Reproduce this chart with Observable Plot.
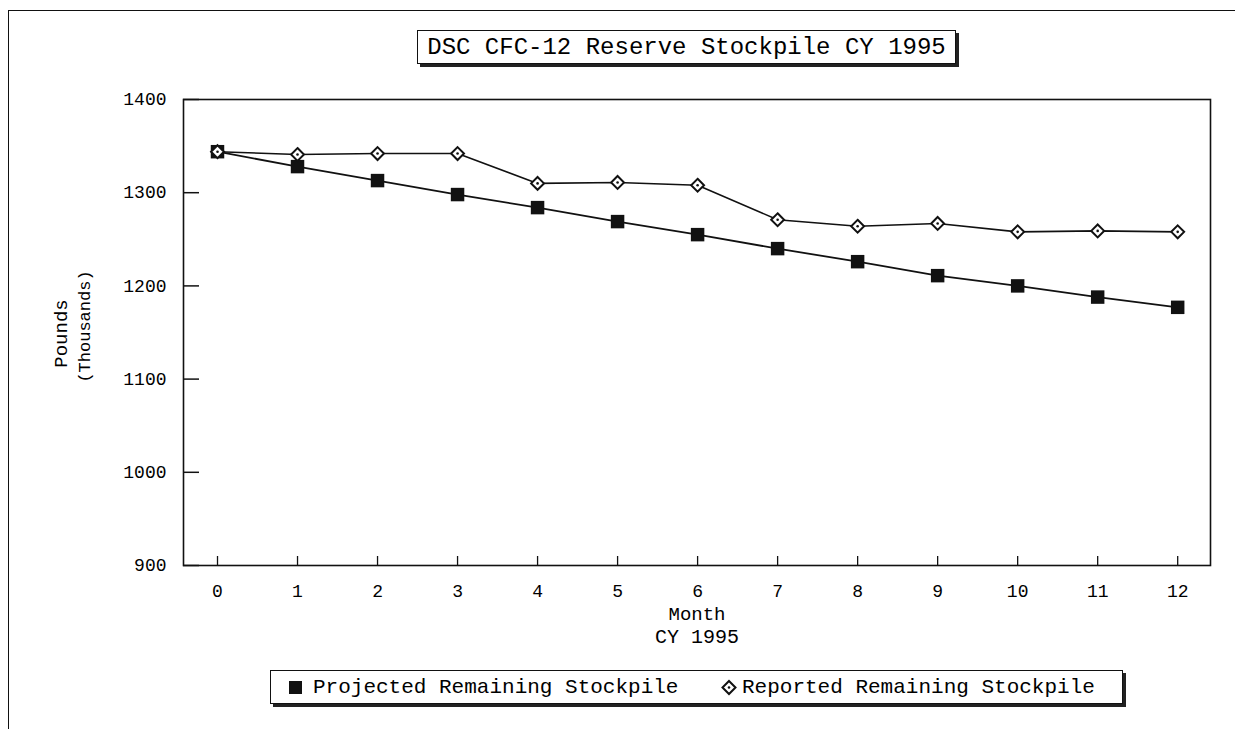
<!DOCTYPE html>
<html>
<head>
<meta charset="utf-8">
<script src="https://cdn.jsdelivr.net/npm/d3@7"></script>
<script src="https://cdn.jsdelivr.net/npm/@observablehq/plot@0.6"></script>
<style>
  body { margin: 0; background: #fff; }
  #wrap { position: relative; width: 1250px; height: 729px; overflow: hidden; font-family: "Liberation Mono", monospace; color: #000; }
  #border { position: absolute; left: 8px; top: 10px; width: 1226px; height: 740px; border-left: 1.5px solid #111; border-top: 1.5px solid #111; }
  #chart { position: absolute; left: 0; top: 0; }
  #title { position: absolute; left: 417px; top: 30px; width: 537px; height: 32px; border: 1.5px solid #111; box-shadow: 3px 3px 0 #222; background: #fff;
           display: flex; align-items: center; justify-content: center; font-size: 24px; white-space: nowrap; }
  #legend { position: absolute; left: 270px; top: 670px; width: 851px; height: 32px; border: 1.5px solid #111; box-shadow: 3px 3px 0 #222; background: #fff; font-size: 21px; white-space: nowrap; }
  #legend .item { position: absolute; top: 0; height: 32px; display: flex; align-items: center; }
  #legend svg { position: absolute; top: 0; }
</style>
</head>
<body>
<div id="wrap">
  <div id="border"></div>
  <div id="chart"></div>
  <div id="title"></div>
  <div id="legend"></div>
</div>
<script>
const titleText = "DSC CFC-12 Reserve Stockpile CY 1995";
const months = [0, 1, 2, 3, 4, 5, 6, 7, 8, 9, 10, 11, 12];
const projected = [1344, 1328, 1313, 1298, 1284, 1269, 1255, 1240, 1226, 1211, 1200, 1188, 1177];
const reported  = [1344, 1341, 1342, 1342, 1310, 1311, 1308, 1271, 1264, 1267, 1258, 1259, 1258];
const yTicks = [900, 1000, 1100, 1200, 1300, 1400];
const seriesNames = ["Projected Remaining Stockpile", "Reported Remaining Stockpile"];
const xLabel1 = "Month", xLabel2 = "CY 1995";
const yLabel1 = "Pounds", yLabel2 = "(Thousands)";

const projData = months.map((m, i) => ({month: m, value: projected[i]}));
const repData = months.map((m, i) => ({month: m, value: reported[i]}));

const W = 1250, H = 729, mT = 99, mB = 164, mL = 183, mR = 40;
const frameW = W - mL - mR, frameH = H - mT - mB;

const chart = Plot.plot({
  width: W,
  height: H,
  marginTop: mT,
  marginBottom: mB,
  marginLeft: mL,
  marginRight: mR,
  style: {fontFamily: "'Liberation Mono', monospace", fontSize: "18px", color: "#000", background: "transparent"},
  x: {domain: [-0.425, 12.41]},
  y: {domain: [900, 1400]},
  marks: [
    Plot.frame({stroke: "#111", strokeWidth: 1.6}),
    Plot.tickY(yTicks, {y: d => d, insetRight: frameW - 16, stroke: "#111", strokeWidth: 1.5}),
    Plot.tickX(months, {x: d => d, insetTop: frameH - 9, stroke: "#111", strokeWidth: 1.3}),
    Plot.axisY({ticks: yTicks, tickSize: 0, tickPadding: 17, label: null, fontSize: 18, tickFormat: d => String(d)}),
    Plot.axisX({ticks: months, tickSize: 0, tickPadding: 19, label: null, fontSize: 18, tickFormat: d => String(d)}),
    Plot.text([xLabel1], {frameAnchor: "bottom", lineAnchor: "middle", dy: 48, fontSize: 19}),
    Plot.text([xLabel2], {frameAnchor: "bottom", lineAnchor: "middle", dy: 71, fontSize: 20}),
    Plot.text([yLabel1], {frameAnchor: "left", textAnchor: "middle", lineAnchor: "middle", dx: -123, dy: 1, rotate: -90, fontSize: 19}),
    Plot.text([yLabel2], {frameAnchor: "left", textAnchor: "middle", lineAnchor: "middle", dx: -99, dy: -6, rotate: -90, fontSize: 17}),
    Plot.line(repData, {x: "month", y: "value", stroke: "#111", strokeWidth: 1.6}),
    Plot.line(projData, {x: "month", y: "value", stroke: "#111", strokeWidth: 1.8}),
    Plot.dot(projData, {x: "month", y: "value", symbol: "square", r: 7.6, fill: "#111", stroke: "none"}),
    Plot.dot(repData, {x: "month", y: "value", symbol: "diamond2", r: 5.8, fill: "#fff", stroke: "#111", strokeWidth: 2}),
    Plot.dot(repData, {x: "month", y: "value", r: 1.3, fill: "#111", stroke: "none"})
  ]
});
document.getElementById("chart").appendChild(chart);
document.getElementById("title").textContent = titleText;

const legend = document.getElementById("legend");
legend.innerHTML =
  `<svg width="851" height="32" style="left:0">
     <rect x="18" y="10" width="13" height="13" fill="#111"/>
     <path d="M458,10 L464.5,16.5 L458,23 L451.5,16.5 Z" fill="#fff" stroke="#111" stroke-width="2"/>
     <circle cx="458" cy="16.5" r="1.3" fill="#111"/>
   </svg>
   <span class="item" style="left:42px">${seriesNames[0]}</span>
   <span class="item" style="left:471px">${seriesNames[1]}</span>`;
</script>
</body>
</html>
